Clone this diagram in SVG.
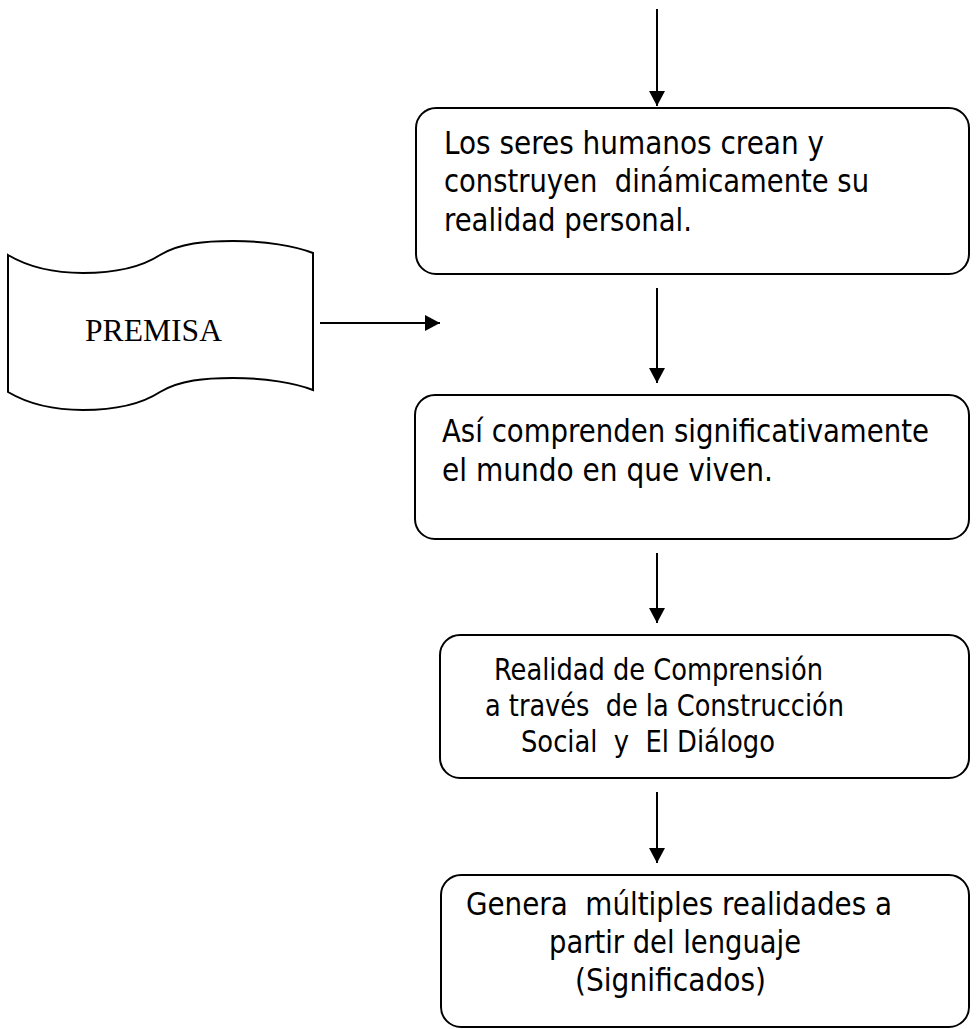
<svg xmlns="http://www.w3.org/2000/svg" width="976" height="1029" viewBox="0 0 976 1029">
<style>
.box{fill:#fff;stroke:#000;stroke-width:2}
.t{font-family:"DejaVu Sans Condensed","Liberation Sans",Arial,sans-serif;fill:#000}
.big{font-size:32px}
.mid{font-size:29.3px}
.prem{font-family:"Liberation Serif","Times New Roman",serif;font-size:31.5px;fill:#000}
.c{stroke:#000;stroke-width:2;fill:none}
</style>
<defs>
<marker id="ah" viewBox="0 0 15 16" refX="15" refY="8" markerWidth="15" markerHeight="16" orient="auto" markerUnits="userSpaceOnUse"><path d="M0,0 L15,8 L0,16 z" fill="#000"/></marker>
</defs>
<rect width="976" height="1029" fill="#fff"/>
<g id="connectors">
<line class="c" x1="657" y1="9" x2="657" y2="106" marker-end="url(#ah)"/>
<line class="c" x1="657" y1="288" x2="657" y2="383" marker-end="url(#ah)"/>
<line class="c" x1="320" y1="323" x2="440" y2="323" marker-end="url(#ah)"/>
<line class="c" x1="657" y1="553" x2="657" y2="623" marker-end="url(#ah)"/>
<line class="c" x1="657" y1="792" x2="657" y2="863" marker-end="url(#ah)"/>
</g>
<g id="premisa">
<path class="box" d="M8,255 C30,268 55,273 83,273 C115,273 140,268 160,255 C180,243 205,241 233,241 C265,241 295,246 313,253 L313,390 C295,383 265,378 233,378 C205,378 180,380 160,392 C140,405 115,410 83,410 C55,410 30,405 8,392 Z"/>
<text class="prem" x="85" y="341" textLength="137" lengthAdjust="spacingAndGlyphs">PREMISA</text>
</g>
<g id="box1">
<rect class="box" x="416" y="108" width="553" height="166" rx="20"/>
<text class="t big" x="444" y="154" textLength="380" lengthAdjust="spacingAndGlyphs">Los seres humanos crean y</text>
<text class="t big" x="444" y="192" textLength="425" lengthAdjust="spacingAndGlyphs" xml:space="preserve">construyen  dinámicamente su</text>
<text class="t big" x="444" y="231" textLength="248" lengthAdjust="spacingAndGlyphs">realidad personal.</text>
</g>
<g id="box2">
<rect class="box" x="415" y="395" width="554" height="144" rx="20"/>
<text class="t big" x="442" y="442" textLength="487" lengthAdjust="spacingAndGlyphs">Así comprenden significativamente</text>
<text class="t big" x="442" y="481" textLength="331" lengthAdjust="spacingAndGlyphs">el mundo en que viven.</text>
</g>
<g id="box3">
<rect class="box" x="440" y="635" width="529" height="143" rx="20"/>
<text class="t mid" x="494" y="680" textLength="329" lengthAdjust="spacingAndGlyphs">Realidad de Comprensión</text>
<text class="t mid" x="485" y="716" textLength="359" lengthAdjust="spacingAndGlyphs" xml:space="preserve">a través  de la Construcción</text>
<text class="t mid" x="521" y="752" textLength="254" lengthAdjust="spacingAndGlyphs" xml:space="preserve">Social  y  El Diálogo</text>
</g>
<g id="box4">
<rect class="box" x="441" y="875" width="528" height="152" rx="20"/>
<text class="t big" x="466" y="915" textLength="426" lengthAdjust="spacingAndGlyphs" xml:space="preserve">Genera  múltiples realidades a</text>
<text class="t big" x="549" y="953" textLength="252" lengthAdjust="spacingAndGlyphs">partir del lenguaje</text>
<text class="t big" x="575" y="991" textLength="191" lengthAdjust="spacingAndGlyphs">(Significados)</text>
</g>
</svg>
